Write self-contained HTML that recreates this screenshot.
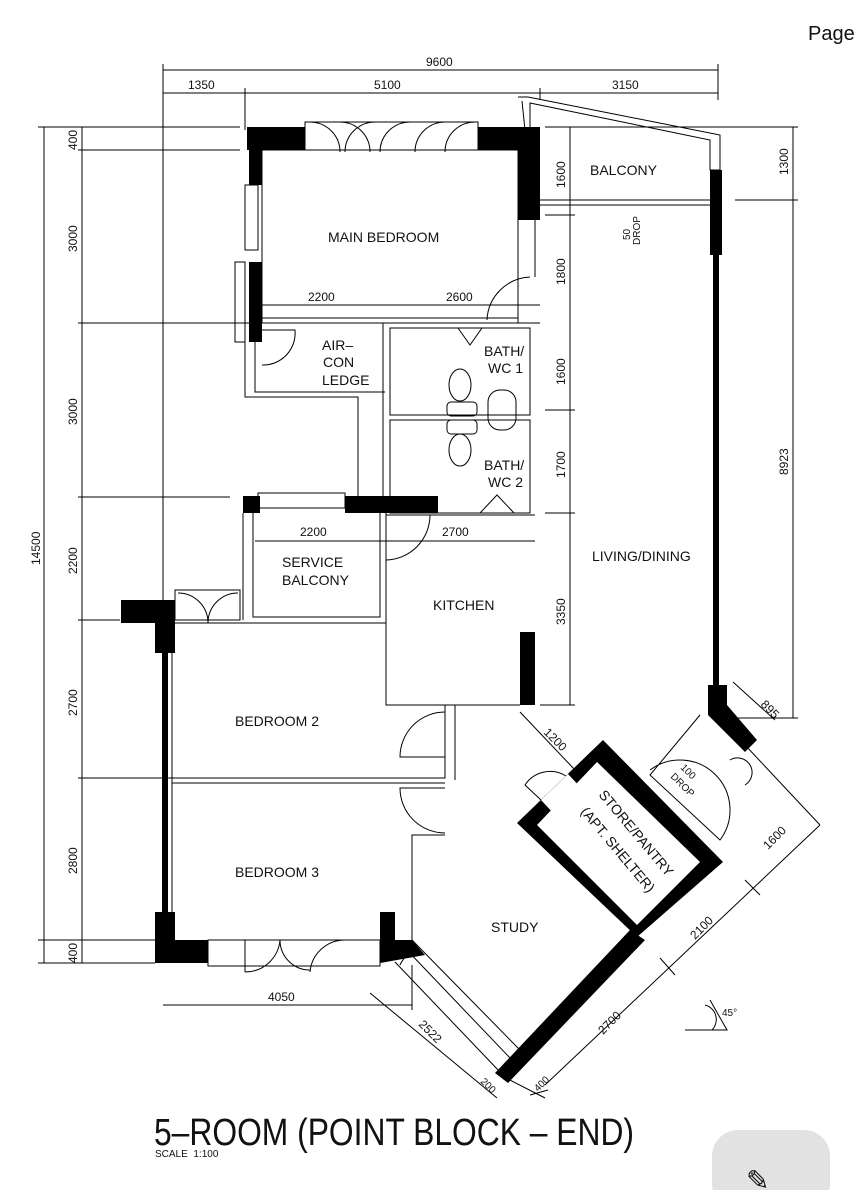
<!DOCTYPE html>
<html><head><meta charset="utf-8"><style>
html,body{margin:0;padding:0;background:#fff;}
svg{display:block}
text{font-family:"Liberation Sans",sans-serif;fill:#111}
.t{font-size:14px}
.d{font-size:12px}
</style></head><body>
<svg width="864" height="1190" viewBox="0 0 864 1190" xmlns="http://www.w3.org/2000/svg">
<g stroke="#000" stroke-width="1" fill="none">
<line x1="163" y1="70" x2="718" y2="70"/>
<line x1="163" y1="93" x2="718" y2="93"/>
<line x1="163" y1="64" x2="163" y2="600"/>
<line x1="245" y1="88" x2="245" y2="130"/>
<line x1="540" y1="88" x2="540" y2="100"/>
<line x1="718" y1="64" x2="718" y2="100"/>
<line x1="44" y1="127" x2="44" y2="963"/>
<line x1="82" y1="127" x2="82" y2="963"/>
<line x1="38" y1="127" x2="240" y2="127"/>
<line x1="78" y1="150" x2="240" y2="150"/>
<line x1="78" y1="323" x2="540" y2="323"/>
<line x1="78" y1="497" x2="230" y2="497"/>
<line x1="78" y1="620" x2="120" y2="620"/>
<line x1="78" y1="778" x2="445" y2="778"/>
<line x1="38" y1="940" x2="155" y2="940"/>
<line x1="38" y1="963" x2="155" y2="963"/>
<line x1="793" y1="127" x2="793" y2="718"/>
<line x1="545" y1="127" x2="798" y2="127"/>
<line x1="735" y1="200" x2="798" y2="200"/>
<line x1="735" y1="718" x2="798" y2="718"/>
<line x1="570" y1="127" x2="570" y2="705"/>
<line x1="545" y1="215" x2="575" y2="215"/>
<line x1="545" y1="410" x2="575" y2="410"/>
<line x1="545" y1="513" x2="575" y2="513"/>
<line x1="540" y1="705" x2="575" y2="705"/>
<line x1="262" y1="305" x2="540" y2="305"/>
<line x1="255" y1="541" x2="535" y2="541"/>
<line x1="163" y1="1005" x2="412" y2="1005"/>
<rect x="262" y="150" width="256" height="173"/>
<line x1="262" y1="318" x2="518" y2="318"/>
<line x1="535" y1="220" x2="535" y2="277"/>
<path d="M530 277 A45 45 0 0 0 487 320"/>
<path d="M518 97 L528 97 L720 135 L720 170 L710 170 L710 140 L530 103 L530 127"/>
<path d="M522 101 L525 130"/>
<line x1="540" y1="200" x2="710" y2="200"/>
<line x1="540" y1="205" x2="710" y2="205"/>
<rect x="305" y="122" width="173" height="28"/>
<path d="M310 122 A30 30 0 0 1 340 152 M340 122 A30 30 0 0 1 370 152 M375 122 A30 30 0 0 0 345 152 M410 122 A30 30 0 0 0 380 152 M445 122 A30 30 0 0 0 415 152 M475 122 A30 30 0 0 0 445 152"/>
<rect x="245" y="185" width="13" height="65"/>
<rect x="235" y="262" width="10" height="80"/>
<path d="M255 323 L255 392 L385 392 M245 340 L245 397 L358 397 L358 497"/>
<path d="M262 330 L295 330 A32 32 0 0 1 262 365"/>
<rect x="390" y="328" width="140" height="87"/>
<rect x="390" y="420" width="140" height="93"/>
<line x1="383" y1="323" x2="383" y2="497"/>
<ellipse cx="460" cy="385" rx="11" ry="16"/><rect x="447" y="402" width="30" height="14" rx="4"/>
<rect x="488" y="390" width="28" height="40" rx="12"/>
<rect x="447" y="420" width="30" height="14" rx="4"/><ellipse cx="460" cy="450" rx="11" ry="16"/>
<path d="M458 328 L470 345 L482 328 M480 513 L497 495 L514 513"/>
<path d="M243 513 L243 620 M253 513 L253 617 L380 617 L380 513 M386 513 L386 705 L520 705"/>
<line x1="386" y1="515" x2="535" y2="515"/>
<path d="M430 515 A45 45 0 0 1 386 560"/>
<rect x="175" y="590" width="65" height="30"/>
<path d="M178 593 A30 30 0 0 1 208 623 M238 593 A30 30 0 0 0 208 623"/>
<rect x="258" y="493" width="87" height="15"/>
<path d="M172 623 L386 623 L386 705 M172 778 L445 778 L445 705 L455 705 L455 780 M172 783 L445 783"/>
<path d="M445 712 A45 45 0 0 0 400 757 L445 757 M445 833 A45 45 0 0 1 400 788 L445 788 M412 940 L412 835 L445 835"/>
<line x1="172" y1="623" x2="172" y2="940"/>
<rect x="208" y="940" width="172" height="26"/>
<path d="M245 940 L245 972 M280 940 A35 35 0 0 1 245 972 M280 940 A30 30 0 0 0 310 970 M345 940 A35 35 0 0 0 310 972"/>
<path d="M412 940 L520 1050 M405 948 L510 1058 M395 962 L500 1072 M400 965 A25 25 0 0 1 420 950"/>
<path d="M370 993 L497 1098 M500 1075 L545 1098 M530 1095 L548 1090"/>
<path d="M545 1085 L820 825 M745 745 L820 825 M520 712 L575 770 M733 682 L775 720"/>
<path d="M660 958 L675 975 M745 880 L760 895"/>
<path d="M685 1030 L727 1030 L710 1000 M705 1005 A15 15 0 0 1 712 1030"/>
<path d="M541 800 L525 785 A30 30 0 0 1 566 776"/>
<path d="M650 770 A50 50 0 0 1 720 840 L650 775 L700 715"/>
<path d="M730 760 A14 14 0 0 1 745 785"/>
<line x1="412" y1="965" x2="412" y2="1010"/>
</g>
<g fill="#000">
<rect x="247" y="127" width="58" height="23"/>
<rect x="478" y="127" width="62" height="23"/>
<rect x="518" y="127" width="22" height="93"/>
<rect x="249" y="127" width="13" height="58"/>
<rect x="249" y="262" width="13" height="80"/>
<rect x="710" y="170" width="12" height="85"/>
<rect x="713" y="255" width="6" height="430"/>
<polygon points="708,685 727,685 727,705 757,740 745,752 708,715"/>
<rect x="243" y="496" width="17" height="17"/>
<rect x="345" y="496" width="93" height="17"/>
<rect x="520" y="632" width="15" height="73"/>
<rect x="121" y="600" width="54" height="23"/>
<rect x="155" y="623" width="20" height="30"/>
<rect x="162" y="650" width="6" height="290"/>
<rect x="155" y="912" width="20" height="51"/>
<rect x="155" y="940" width="53" height="23"/>
<rect x="380" y="912" width="15" height="30"/>
<polygon points="380,940 412,940 425,955 380,963"/>
<path fill-rule="evenodd" d="M603 740 L723 862 L637 937 L517 823 Z M597 762 L537 825 L637 925 L700 862 Z"/>
<polygon points="630,930 645,940 508,1083 495,1073"/>
</g>
<polygon fill="#fff" points="541,800 568,774 582,789 555,815"/>
<text x="808" y="40" font-size="20">Page</text>
<text x="426" y="66" class="d">9600</text>
<text x="188" y="89" class="d">1350</text>
<text x="374" y="89" class="d">5100</text>
<text x="612" y="89" class="d">3150</text>
<g class="d">
<text transform="translate(77,150) rotate(-90)">400</text>
<text transform="translate(77,252) rotate(-90)">3000</text>
<text transform="translate(77,425) rotate(-90)">3000</text>
<text transform="translate(77,574) rotate(-90)">2200</text>
<text transform="translate(77,716) rotate(-90)">2700</text>
<text transform="translate(77,874) rotate(-90)">2800</text>
<text transform="translate(77,963) rotate(-90)">400</text>
<text transform="translate(40,565) rotate(-90)">14500</text>
<text transform="translate(788,175) rotate(-90)">1300</text>
<text transform="translate(788,475) rotate(-90)">8923</text>
<text transform="translate(565,188) rotate(-90)">1600</text>
<text transform="translate(565,285) rotate(-90)">1800</text>
<text transform="translate(565,385) rotate(-90)">1600</text>
<text transform="translate(565,478) rotate(-90)">1700</text>
<text transform="translate(565,625) rotate(-90)">3350</text>
<text transform="translate(630,240) rotate(-90)" font-size="10">50</text>
<text transform="translate(640,245) rotate(-90)" font-size="10">DROP</text>
<text x="308" y="301">2200</text><text x="446" y="301">2600</text>
<text x="300" y="536">2200</text><text x="442" y="536">2700</text>
<text x="268" y="1001">4050</text>
<text transform="translate(760,705) rotate(45)">895</text>
<text transform="translate(543,733) rotate(45)">1200</text>
<text transform="translate(768,850) rotate(-45)">1600</text>
<text transform="translate(695,940) rotate(-45)">2100</text>
<text transform="translate(603,1035) rotate(-45)">2700</text>
<text transform="translate(418,1025) rotate(45)">2522</text>
<text transform="translate(480,1082) rotate(45)" font-size="10">200</text>
<text transform="translate(538,1092) rotate(-45)" font-size="10">400</text>
<text transform="translate(680,768) rotate(45)" font-size="10">100</text>
<text transform="translate(670,777) rotate(45)" font-size="10">DROP</text>
<text x="722" y="1016" font-size="10">45°</text>
</g>
<g class="t">
<text x="328" y="242">MAIN BEDROOM</text>
<text x="590" y="175">BALCONY</text>
<text x="322" y="350">AIR–</text><text x="323" y="367">CON</text><text x="322" y="385">LEDGE</text>
<text x="484" y="356">BATH/</text><text x="488" y="373">WC 1</text>
<text x="484" y="470">BATH/</text><text x="488" y="487">WC 2</text>
<text x="282" y="567">SERVICE</text><text x="282" y="585">BALCONY</text>
<text x="433" y="610">KITCHEN</text>
<text x="592" y="561">LIVING/DINING</text>
<text x="235" y="726">BEDROOM 2</text>
<text x="235" y="877">BEDROOM 3</text>
<text x="491" y="932">STUDY</text>
<text transform="translate(598,795) rotate(50)">STORE/PANTRY</text>
<text transform="translate(580,812) rotate(50)">(APT. SHELTER)</text>
</g>
<text x="154" y="1145" font-size="38" textLength="480" lengthAdjust="spacingAndGlyphs" fill="#222">5–ROOM (POINT BLOCK – END)</text>
<text x="155" y="1157" font-size="10">SCALE&#160;&#160;1:100</text>
<rect x="712" y="1130" width="118" height="80" rx="26" fill="#e2e2e2"/>
<text x="746" y="1190" font-size="28" fill="#111">✎</text>
</svg>
</body></html>
